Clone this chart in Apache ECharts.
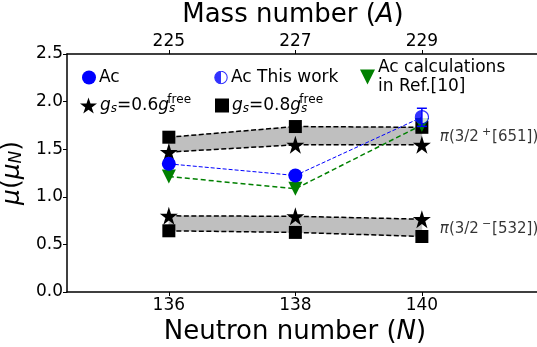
<!DOCTYPE html>
<html>
<head>
<meta charset="utf-8">
<script src="https://cdn.jsdelivr.net/npm/echarts@6/dist/echarts.min.js"></script>
<style>html,body{margin:0;padding:0;background:#fff;}#c{width:537px;height:347px;}</style>
</head>
<body>
<div id="c"></div>
<script>
// ---- data ----
const neutronN = [136, 138, 140];
const massTicks = ['225', '227', '229'];
const yTicks = [0, 0.5, 1.0, 1.5, 2.0, 2.5];
const acExp = [1.346, 1.224, 1.836];          // last point = this work
const acThisWorkErr = [1.74, 1.93];            // error bar at N=140
const acCalcRef10 = [1.213, 1.084, 1.755];
const star651 = [1.47, 1.546, 1.546];         // gs = 0.6 gs_free, pi 3/2+[651]
const square651 = [1.626, 1.738, 1.73];       // gs = 0.8 gs_free
const star532 = [0.80, 0.795, 0.765];         // gs = 0.6 gs_free, pi 3/2-[532]
const square532 = [0.643, 0.626, 0.583];      // gs = 0.8 gs_free
const label651 = ['(3/2', '+', '[651])'];
const label532 = ['(3/2', '−', '[532])'];

const FONT = 'DejaVu Sans';
const STAR = 'path://M50,0 L61.2,34.5 L97.6,34.5 L68.2,55.9 L79.4,90.5 L50,69.1 L20.6,90.5 L31.8,55.9 L2.4,34.5 L38.8,34.5 Z';
const TRI_DOWN = 'path://M0,0 L10,0 L5,10 Z';
const HALF = 'image://data:image/svg+xml;charset=utf-8,' + encodeURIComponent(
  "<svg xmlns='http://www.w3.org/2000/svg' width='26' height='26'><circle cx='13' cy='13' r='11.5' fill='white' stroke='blue' stroke-width='2'/><path d='M13 1.5 A11.5 11.5 0 0 0 13 24.5 Z' fill='blue'/></svg>");

const pts = arr => neutronN.map((n, i) => [n, arr[i]]);

function bandSeries(lo, hi) {
  return {
    type: 'custom', silent: true, z: 1,
    data: neutronN.slice(0, -1).map((n, i) => [n, lo[i]]),
    renderItem: function (params, api) {
      const i = params.dataIndex;
      const p = [
        api.coord([neutronN[i], lo[i]]),
        api.coord([neutronN[i + 1], lo[i + 1]]),
        api.coord([neutronN[i + 1], hi[i + 1]]),
        api.coord([neutronN[i], hi[i]])
      ];
      return { type: 'polygon', shape: { points: p }, style: { fill: '#bfbfbf', stroke: '#bfbfbf', lineWidth: 0.5 } };
    }
  };
}

const blackLine = { color: '#000', width: 1.5, type: [5, 2.5] };

const chart = echarts.init(document.getElementById('c'), null, { renderer: 'canvas' });
const sub = { fontSize: 12, fontStyle: 'italic', fontFamily: FONT, padding: [7, 0, 0, 0] };
const sup = { fontSize: 12, fontFamily: FONT, padding: [0, 0, 11, 0] };
const it = { fontSize: 17, fontStyle: 'italic', fontFamily: FONT };
const nm = { fontSize: 17, fontFamily: FONT };
const legendText = {
  'Ac': 'Ac',
  'Ac This work': 'Ac This work',
  'calc': 'Ac calculations\nin Ref.[10]',
  'gs06': '{it|g}{sub|s}{nm|=0.6}{it|g}{subsup|s}{sup|free}',
  'gs08': '{it|g}{sub|s}{nm|=0.8}{it|g}{subsup|s}{sup|free}'
};
function mkLegend(name, icon, left, top, w, h) {
  return {
    data: [{ name: name, icon: icon }], left: left, top: top, itemWidth: w, itemHeight: h,
    selectedMode: false, padding: 0,
    formatter: n => legendText[n],
    textStyle: {
      fontSize: 17, fontFamily: FONT, color: '#000', lineHeight: 19, padding: [0, 0, 0, -2],
      rich: { it: it, nm: nm, sub: sub, sup: sup, subsup: Object.assign({}, sub, { padding: [7, -8, 0, 0] }) }
    }
  };
}

const option = {
  animation: false,
  backgroundColor: '#fff',
  textStyle: { fontFamily: FONT },
  grid: { left: 67, right: 0, top: 54, bottom: 55, containLabel: false, outerBoundsMode: 'none' },
  xAxis: [
    {
      type: 'value', position: 'bottom', min: 134.39, max: 141.82,
      name: 'Neutron number ({i|N})', nameLocation: 'middle', nameGap: 10,
      nameTextStyle: { fontSize: 26, color: '#000', fontFamily: FONT, padding: [0, 14, 0, 0],
        rich: { i: { fontSize: 26, fontStyle: 'italic', fontFamily: FONT } } },
      axisLine: { show: true, onZero: false, lineStyle: { color: '#000', width: 1.5 } },
      axisTick: { show: true, inside: false, length: 4, lineStyle: { color: '#000', width: 1 }, customValues: neutronN },
      axisLabel: { show: true, fontSize: 17, color: '#000', margin: 5, customValues: neutronN, formatter: v => String(v) },
      splitLine: { show: false }
    },
    {
      type: 'value', position: 'top', min: 134.39, max: 141.82,
      name: 'Mass number ({i|A})', nameLocation: 'middle', nameGap: 24,
      nameTextStyle: { fontSize: 26, color: '#000', fontFamily: FONT, padding: [0, 18, 0, 0],
        rich: { i: { fontSize: 26, fontStyle: 'italic', fontFamily: FONT } } },
      axisLine: { show: true, onZero: false, lineStyle: { color: '#000', width: 1.5 } },
      axisTick: { show: true, inside: false, length: 4, lineStyle: { color: '#000', width: 1 }, customValues: neutronN },
      axisLabel: { show: true, fontSize: 17, color: '#000', margin: 4, customValues: neutronN,
        formatter: v => massTicks[neutronN.indexOf(Math.round(v))] },
      splitLine: { show: false }
    }
  ],
  yAxis: {
    type: 'value', min: 0, max: 2.5, interval: 0.5,
    name: '{i|μ}({i|μ}{s|N})', nameLocation: 'middle', nameGap: 35, nameRotate: 90,
    nameTextStyle: { fontSize: 25, color: '#000', fontFamily: FONT,
      rich: { i: { fontSize: 25, fontStyle: 'italic', fontFamily: FONT }, s: { fontSize: 17, fontStyle: 'italic', fontFamily: FONT, padding: [9, 0, 0, 0] } } },
    axisLine: { show: true, lineStyle: { color: '#000', width: 1.5 } },
    axisTick: { show: true, inside: false, length: 4, lineStyle: { color: '#000', width: 1 } },
    axisLabel: { fontSize: 17, color: '#000', margin: 4, formatter: v => v.toFixed(1) },
    splitLine: { show: false }
  },
  legend: [
    mkLegend('Ac', 'circle', 82, 68, 14, 14),
    mkLegend('Ac This work', HALF, 214, 68, 14, 14),
    mkLegend('calc', TRI_DOWN, 360, 58, 15, 15),
    mkLegend('gs06', STAR, 80, 94, 17, 17),
    mkLegend('gs08', 'rect', 215, 94, 14, 14)
  ],
  series: [
    bandSeries(star651, square651),
    bandSeries(square532, star532),
    { name: 'gs08', type: 'line', data: pts(square651), symbol: 'rect', symbolSize: 13, z: 3,
      itemStyle: { color: '#000' }, lineStyle: blackLine },
    { name: 'gs06', type: 'line', data: pts(star651), symbol: STAR, symbolSize: 18, z: 3,
      itemStyle: { color: '#000' }, lineStyle: blackLine },
    { name: 'gs06', type: 'line', data: pts(star532), symbol: STAR, symbolSize: 18, z: 3,
      itemStyle: { color: '#000' }, lineStyle: blackLine },
    { name: 'gs08', type: 'line', data: pts(square532), symbol: 'rect', symbolSize: 13, z: 3,
      itemStyle: { color: '#000' }, lineStyle: blackLine },
    { name: 'calc', type: 'line', data: pts(acCalcRef10), symbol: TRI_DOWN, symbolSize: 14, z: 4,
      itemStyle: { color: '#008000' }, lineStyle: { color: '#008000', width: 1.5, type: [5, 3] } },
    { name: 'Ac', type: 'line', z: 5,
      data: neutronN.map((n, i) => i === neutronN.length - 1 ? { value: [n, acExp[i]], symbol: 'none' } : [n, acExp[i]]),
      symbol: 'circle', symbolSize: 14, showAllSymbol: true,
      itemStyle: { color: '#0000ff' }, lineStyle: { color: '#0000ff', width: 1, type: [4, 2] } },
    { name: 'Ac This work', type: 'scatter', z: 6, data: [[neutronN[2], acExp[2]]],
      symbol: HALF, symbolSize: 15, itemStyle: { color: '#0000ff' } },
    { type: 'custom', z: 7, silent: true, data: [[neutronN[2], acThisWorkErr[0], acThisWorkErr[1]]],
      renderItem: function (params, api) {
        const a = api.coord([api.value(0), api.value(1)]);
        const b = api.coord([api.value(0), api.value(2)]);
        const st = { stroke: '#0000ff', lineWidth: 1.5 };
        return { type: 'group', children: [
          { type: 'line', shape: { x1: a[0], y1: a[1], x2: b[0], y2: b[1] }, style: st },
          { type: 'line', shape: { x1: b[0] - 5, y1: b[1], x2: b[0] + 5, y2: b[1] }, style: st },
          { type: 'line', shape: { x1: a[0] - 5, y1: a[1], x2: a[0] + 5, y2: a[1] }, style: st }
        ] };
      } },
    { type: 'scatter', z: 8, silent: true, symbol: 'circle', symbolSize: 2,
      itemStyle: { color: 'rgba(0,0,0,0)' }, clip: false,
      data: [
        { name: label651.join('|'), value: [neutronN[2], (star651[2] + square651[2]) / 2] },
        { name: label532.join('|'), value: [neutronN[2], (star532[2] + square532[2]) / 2] }
      ],
      label: { show: true, position: 'right', distance: 17, color: '#000', fontSize: 15, fontFamily: FONT,
        offset: [0, 1],
        formatter: p => { const s = p.name.split('|'); return '{p|π}{t|' + s[0] + '}{s|' + s[1] + '}{t|' + s[2] + '}'; },
        rich: { p: { fontSize: 15, fontStyle: 'italic', fontFamily: FONT, color: '#000' },
                t: { fontSize: 15, fontFamily: FONT, color: '#000' },
                s: { fontSize: 11, fontFamily: FONT, color: '#000', padding: [0, 1, 9, 3] } } } }
  ]
};
chart.setOption(option);
</script>
</body>
</html>
